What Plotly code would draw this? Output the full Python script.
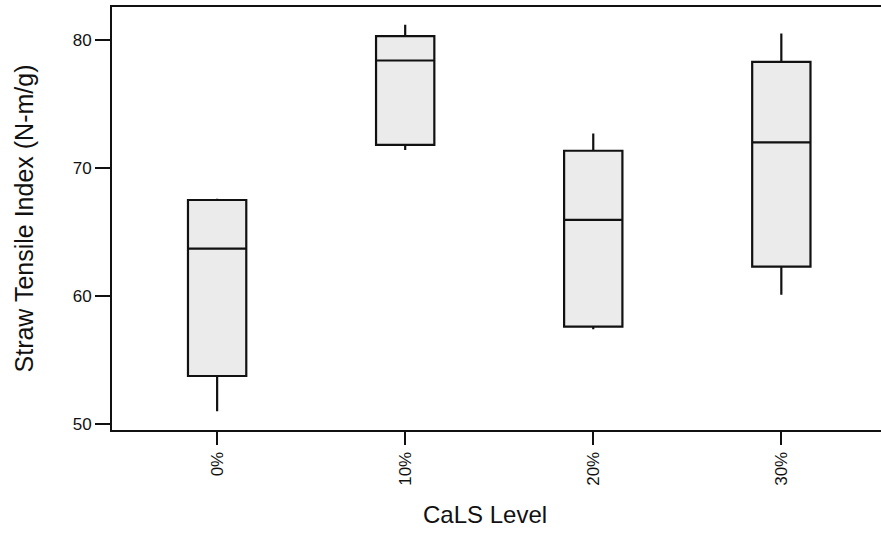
import plotly.graph_objects as go

categories = ["0%", "10%", "20%", "30%"]
lower_whisker = [51.0, 71.4, 57.4, 60.1]
q1_values = [53.75, 71.8, 57.6, 62.3]
median_values = [63.7, 78.4, 65.95, 72.0]
q3_values = [67.5, 80.3, 71.35, 78.3]
upper_whisker = [67.6, 81.2, 72.7, 80.5]

y_ticks = [50, 60, 70, 80]

FONT = "Liberation Sans, Arial, Helvetica, sans-serif"

fig = go.Figure()
fig.add_trace(go.Box(
    x=categories,
    q1=q1_values,
    median=median_values,
    q3=q3_values,
    lowerfence=lower_whisker,
    upperfence=upper_whisker,
    width=0.31,
    whiskerwidth=0,
    fillcolor="#ebebeb",
    line=dict(color="#111111", width=2.2),
    boxpoints=False,
    showlegend=False,
    hoverinfo="skip",
))

fig.update_layout(
    width=881,
    height=536,
    margin=dict(l=112, r=0, t=7, b=106),
    paper_bgcolor="white",
    plot_bgcolor="white",
    font=dict(family=FONT, color="#111111"),
    xaxis=dict(
        type="category",
        range=[-0.559, 3.53],
        showline=True,
        linecolor="#111111",
        linewidth=2,
        mirror=True,
        ticks="outside",
        ticklen=13,
        tickwidth=2,
        tickcolor="#111111",
        tickangle=-90,
        tickfont=dict(size=17, family=FONT, color="#111111"),
        showgrid=False,
        zeroline=False,
    ),
    yaxis=dict(
        range=[49.53, 82.58],
        tickvals=y_ticks,
        ticktext=[str(v) for v in y_ticks],
        showline=True,
        linecolor="#111111",
        linewidth=2,
        ticks="outside",
        ticklen=15,
        tickwidth=2,
        tickcolor="#111111",
        tickfont=dict(size=17, family=FONT, color="#111111"),
        showgrid=False,
        zeroline=False,
        title=dict(text="Straw Tensile Index (N-m/g)", font=dict(size=25, family=FONT, color="#111111"), standoff=32),
    ),
    annotations=[dict(
        text="CaLS Level",
        x=0.485, y=-0.2,
        xref="paper", yref="paper",
        xanchor="center", yanchor="middle",
        showarrow=False,
        font=dict(size=24, family=FONT, color="#111111"),
    )],
)

fig.write_html("out.html")
